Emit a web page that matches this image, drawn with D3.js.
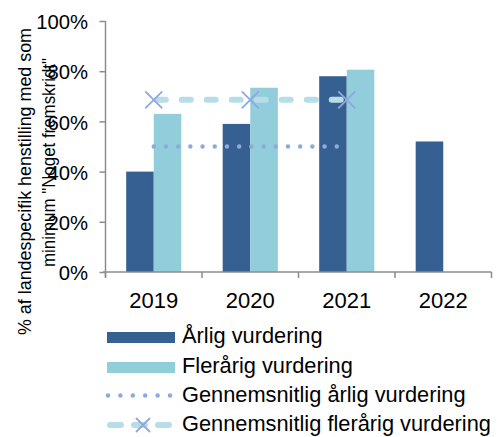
<!DOCTYPE html>
<html>
<head>
<meta charset="utf-8">
<script src="https://cdn.jsdelivr.net/npm/d3@7"></script>
<style>
  html, body { margin: 0; padding: 0; background: #fff; }
  svg { display: block; }
  svg text { font-family: "Liberation Sans", Arial, sans-serif; fill: #000; }
</style>
</head>
<body>
<svg id="chart" width="502" height="437"></svg>
<script>
// ---- data ----
const years = ["2019", "2020", "2021", "2022"];
const annual = [40, 59, 78, 52];            // Årlig vurdering
const multiYear = [63, 73.4, 80.6, null];   // Flerårig vurdering
const avgYears = ["2019", "2020", "2021"];
const avgAnnual = [50, 50, 50];             // Gennemsnitlig årlig vurdering
const avgMulti = [68.6, 68.6, 68.6];        // Gennemsnitlig flerårig vurdering
const yTicks = [0, 20, 40, 60, 80, 100];
const seriesNames = ["Årlig vurdering", "Flerårig vurdering",
  "Gennemsnitlig årlig vurdering", "Gennemsnitlig flerårig vurdering"];
const yTitle = ["% af landespecifik henstilling med som", "minimum \"Noget fremskridt\""];

// ---- style ----
const FONT = "'Liberation Sans', Arial, sans-serif";
const cDark = "#366092", cLight = "#92cddc", cDot = "#8eaadb", cDash = "#b7dee8", cMark = "#8ea9db";
const cAxis = "#8c8c8c";

const svg = d3.select("#chart");
const x = d3.scaleBand().domain(years).range([105.5, 491.5]).padding(0);
const xs = d3.scaleBand().domain(["a", "m"]).range([0, x.bandwidth()]).paddingInner(0).paddingOuter(0.75);
const y = d3.scaleLinear().domain([0, 100]).range([272, 21]);

// bars
const barData = [];
years.forEach((yr, i) => {
  if (annual[i] != null) barData.push({ yr, s: "a", v: annual[i] });
  if (multiYear[i] != null) barData.push({ yr, s: "m", v: multiYear[i] });
});
svg.append("g").selectAll("rect").data(barData).join("rect")
  .attr("x", d => x(d.yr) + xs(d.s))
  .attr("y", d => y(d.v))
  .attr("width", xs.bandwidth())
  .attr("height", d => y(0) - y(d.v))
  .attr("fill", d => d.s === "a" ? cDark : cLight);

// y axis
const yAxis = svg.append("g").attr("transform", "translate(105.5,0)")
  .call(d3.axisLeft(y).tickValues(yTicks).tickFormat(d => d + "%").tickSize(6).tickPadding(11.5));
yAxis.attr("font-family", FONT);
yAxis.select(".domain").attr("stroke", cAxis).attr("stroke-width", 1.5).attr("d", "M0," + y(100) + "V" + (y(0) + 5));
yAxis.selectAll(".tick line").attr("stroke", cAxis).attr("stroke-width", 1.5);
yAxis.selectAll(".tick text").attr("font-size", 20.3).style("font-family", FONT).attr("fill", "#000").attr("dy", "0.38em");

// x axis
const xg = svg.append("g");
xg.append("line").attr("x1", 103).attr("x2", x.range()[1]).attr("y1", y(0)).attr("y2", y(0))
  .attr("stroke", cAxis).attr("stroke-width", 1.5);
const bounds = years.map(d => x(d)).concat([x.range()[1]]);
xg.selectAll("line.tk").data(bounds).join("line").attr("class", "tk")
  .attr("x1", d => d).attr("x2", d => d).attr("y1", y(0)).attr("y2", y(0) + 6)
  .attr("stroke", cAxis).attr("stroke-width", 1.5);
xg.selectAll("text").data(years).join("text")
  .attr("x", d => x(d) + x.bandwidth() / 2).attr("y", 308)
  .attr("text-anchor", "middle").attr("font-size", 22).style("font-family", FONT).text(d => d);

// average lines
const line = d3.line().x(d => x(d.yr) + x.bandwidth() / 2).y(d => y(d.v));
const aData = avgYears.map((yr, i) => ({ yr, v: avgAnnual[i] }));
const mData = avgYears.map((yr, i) => ({ yr, v: avgMulti[i] }));
svg.append("path").datum(aData).attr("d", line).attr("fill", "none")
  .attr("stroke", cDot).attr("stroke-width", 4.5).attr("stroke-linecap", "round")
  .attr("stroke-dasharray", "0 12.2");
svg.append("path").datum(mData).attr("d", line).attr("fill", "none")
  .attr("stroke", cDash).attr("stroke-width", 6).attr("stroke-linecap", "round")
  .attr("stroke-dasharray", "9 16").attr("stroke-dashoffset", -3);
function cross(g, cx, cy, r) {
  g.append("path").attr("d", `M${cx - r},${cy - r}L${cx + r},${cy + r}M${cx - r},${cy + r}L${cx + r},${cy - r}`)
    .attr("stroke", cMark).attr("stroke-width", 1.8).attr("fill", "none");
}
const mg = svg.append("g");
mData.forEach(d => cross(mg, x(d.yr) + x.bandwidth() / 2, y(d.v), 8.5));

// y title
const tg = svg.append("g");
tg.append("text").attr("transform", "translate(31,335) rotate(-90)").style("font-family", FONT)
  .attr("font-size", 18).attr("textLength", 307).attr("lengthAdjust", "spacingAndGlyphs").text(yTitle[0]);
tg.append("text").attr("transform", "translate(55,267) rotate(-90)").style("font-family", FONT)
  .attr("font-size", 18).attr("textLength", 209).attr("lengthAdjust", "spacingAndGlyphs").text(yTitle[1]);

// legend
const lg = svg.append("g");
const rows = [343, 373, 402, 431];
lg.append("rect").attr("x", 107).attr("y", rows[0] - 11).attr("width", 68).attr("height", 11).attr("fill", cDark);
lg.append("rect").attr("x", 107).attr("y", rows[1] - 11).attr("width", 68).attr("height", 11).attr("fill", cLight);
lg.append("line").attr("x1", 108).attr("x2", 172).attr("y1", rows[2] - 6.5).attr("y2", rows[2] - 6.5)
  .attr("stroke", cDot).attr("stroke-width", 4.5).attr("stroke-linecap", "round").attr("stroke-dasharray", "0 12.4");
lg.append("line").attr("x1", 110).attr("x2", 172).attr("y1", rows[3] - 6).attr("y2", rows[3] - 6)
  .attr("stroke", cDash).attr("stroke-width", 6).attr("stroke-linecap", "round").attr("stroke-dasharray", "11 13");
cross(lg, 143, rows[3] - 6, 7);
lg.selectAll("text").data(seriesNames).join("text")
  .attr("x", 182).attr("y", (d, i) => rows[i]).attr("font-size", 21.8).style("font-family", FONT).text(d => d);
</script>
</body>
</html>
